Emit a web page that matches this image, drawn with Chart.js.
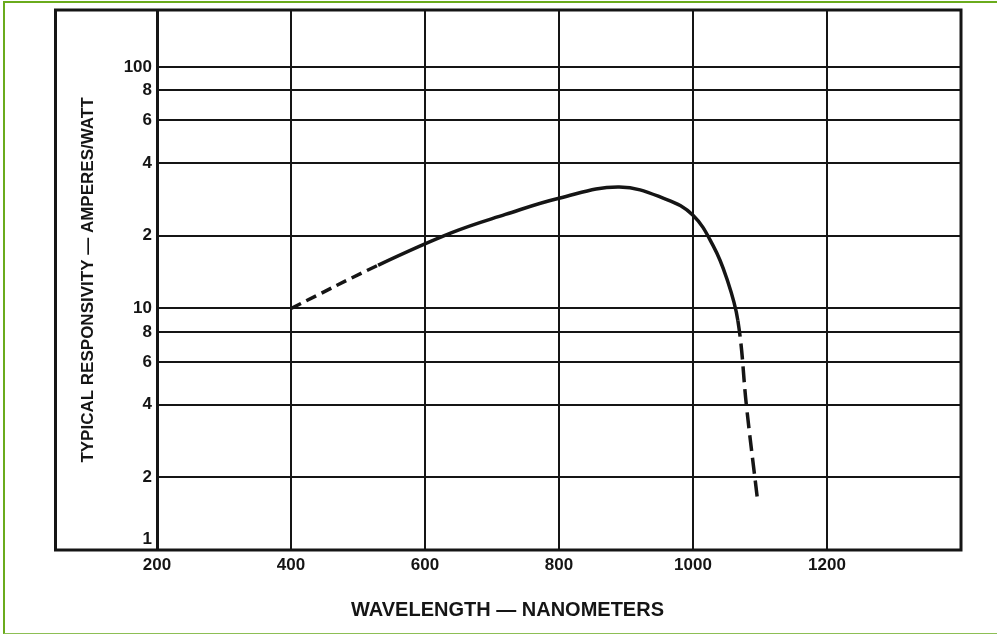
<!DOCTYPE html>
<html>
<head>
<meta charset="utf-8">
<script src="https://cdn.jsdelivr.net/npm/chart.js@4/dist/chart.umd.min.js"></script>
<style>
  body { margin: 0; background: #fff; }
  #wrap { position: relative; width: 997px; height: 634px; }
  #edge { position: absolute; left: 3px; top: 1px; right: 0; bottom: 0;
          border-left: 2px solid #6aab1c; border-top: 2px solid #6aab1c;
          border-bottom: 1px solid #8dbf55; pointer-events: none; }
</style>
</head>
<body>
<div id="wrap">
  <canvas id="myChart" width="997" height="634"></canvas>
  <div id="edge"></div>
</div>
<script>
// wavelength (nm) and typical responsivity (A/W)
var wavelength   = [400, 530, 640, 720, 800, 890, 960, 1000, 1030, 1050, 1067, 1080, 1096];
var responsivity = [10, 15.1, 20.6, 24.5, 28.6, 31.8, 28.3, 24.3, 18.2, 13.4, 8.9, 3.9, 1.64];

// curve is drawn dashed below / above these wavelengths
var dashedUntil = 530;
var dashedFrom = 1067;

var yTicks = [1, 2, 4, 6, 8, 10, 20, 40, 60, 80, 100];
var yTickLabels = ['1', '2', '4', '6', '8', '10', '2', '4', '6', '8', '100'];
var xTicks = [200, 400, 600, 800, 1000, 1200];

var points = [];
for (var i = 0; i < wavelength.length; i++) {
  points.push({x: wavelength[i], y: responsivity[i]});
}

var ink = '#151515';
var tickFont = {family: 'Liberation Sans', size: 17, weight: 'bold'};

// outer box round the plot and the y labels
var framePlugin = {
  id: 'frame',
  afterDraw: function (chart) {
    var a = chart.chartArea;
    var c = chart.ctx;
    c.save();
    c.strokeStyle = ink;
    c.lineWidth = 3;
    c.strokeRect(55.5, a.top, a.right - 55.5, a.bottom - a.top);
    c.restore();
  }
};

var myChart = new Chart(document.getElementById('myChart').getContext('2d'), {
  type: 'line',
  data: {
    datasets: [{
      data: points,
      borderColor: ink,
      borderWidth: 3.5,
      pointRadius: 0,
      tension: 0.4,
      segment: {
        borderDash: function (ctx) {
          if (ctx.p1.parsed.x <= dashedUntil) return [11, 6];
          if (ctx.p0.parsed.x >= dashedFrom) return [16, 7];
          return undefined;
        }
      }
    }]
  },
  options: {
    responsive: false,
    animation: false,
    devicePixelRatio: 1,
    layout: { padding: {left: 54, right: 36, top: 10, bottom: 12} },
    plugins: {
      legend: { display: false },
      tooltip: { enabled: false },
      title: {
        display: true,
        position: 'bottom',
        text: 'WAVELENGTH \u2014 NANOMETERS',
        color: ink,
        font: {family: 'Liberation Sans', size: 20, weight: 'bold'},
        padding: {top: 8, bottom: 0}
      }
    },
    scales: {
      x: {
        type: 'linear',
        min: 200,
        max: 1400,
        afterBuildTicks: function (scale) {
          scale.ticks = [200, 400, 600, 800, 1000, 1200, 1400].map(function (v) { return {value: v}; });
        },
        afterFit: function (scale) {
          scale.height = 40;
          scale.paddingLeft = 0;
          scale.paddingRight = 0;
        },
        grid: { color: ink, lineWidth: 2, drawTicks: false },
        border: { display: false },
        ticks: {
          color: ink,
          font: tickFont,
          padding: 5,
          maxRotation: 0,
          callback: function (v) { return xTicks.indexOf(v) >= 0 ? String(v) : ''; }
        }
      },
      y: {
        type: 'logarithmic',
        min: 1,
        max: 172,
        afterBuildTicks: function (scale) {
          scale.ticks = yTicks.map(function (v) { return {value: v}; });
        },
        afterFit: function (scale) {
          scale.width = 103;
          scale.paddingTop = 0;
          scale.paddingBottom = 0;
        },
        grid: { color: ink, lineWidth: 2, drawTicks: false },
        border: { display: true, color: ink, width: 3 },
        ticks: {
          color: ink,
          font: tickFont,
          padding: 5,
          autoSkip: false,
          callback: function (v) {
            var k = yTicks.indexOf(v);
            if (k < 0) return '';
            // the bottom label sits above the frame line
            return v === 1 ? [yTickLabels[k], ''] : yTickLabels[k];
          }
        },
        title: {
          display: true,
          text: 'TYPICAL RESPONSIVITY \u2014 AMPERES/WATT',
          color: ink,
          font: {family: 'Liberation Sans', size: 17, weight: 'bold'},
          padding: {top: 24, bottom: 0}
        }
      }
    }
  },
  plugins: [framePlugin]
});
</script>
</body>
</html>
